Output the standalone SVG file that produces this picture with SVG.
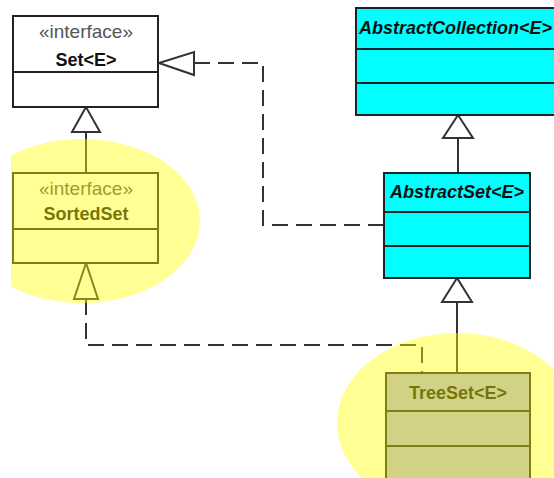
<svg xmlns="http://www.w3.org/2000/svg" width="554" height="478" viewBox="0 0 554 478">
<style>
.box{stroke:#222;stroke-width:2}
.white{fill:#fff}
.cyan{fill:#00ffff}
.lav{fill:#b1b1e9}
.div{stroke:#222;stroke-width:2;fill:none}
.line{stroke:#333;stroke-width:2;fill:none}
.dash{stroke:#333;stroke-width:2;fill:none;stroke-dasharray:16 8}
.tri{fill:#fff;stroke:#333;stroke-width:2;stroke-linejoin:miter}
.name{font-family:"Liberation Sans",Arial,sans-serif;font-size:18px;font-weight:bold;fill:#111;text-anchor:middle}
.abs{font-style:italic}
.stereo{font-family:"Liberation Sans",Arial,sans-serif;font-size:19px;fill:#555;text-anchor:middle}
.hl{fill:#ffff00;opacity:0.42}
</style>
<defs>
<clipPath id="clipL"><rect x="11" y="0" width="543" height="478"/></clipPath>
</defs>
<rect width="554" height="478" fill="#fff"/>
<g id="connectors">
<path class="dash" d="M194,63 H263 V225 H384"/>
<path class="dash" d="M86,299 V345 H422 V373"/>
<path class="line" d="M86,132 V173"/>
<path class="line" d="M458,138 V173"/>
<path class="line" d="M457,302 V373"/>
<polygon class="tri" points="159,63 194,52 194,75"/>
<polygon class="tri" points="86,107 72,132 100,132"/>
<polygon class="tri" points="86,263 74,299 98,299"/>
<polygon class="tri" points="458,115 443,138 473,138"/>
<polygon class="tri" points="457,278 442,302 472,302"/>
</g>
<g id="Set">
<rect class="box white" x="13" y="16" width="145" height="91"/>
<line class="div" x1="13" y1="72" x2="158" y2="72"/>
<text class="stereo" x="86" y="38">«interface»</text>
<text class="name" x="86" y="66">Set&lt;E&gt;</text>
</g>
<g id="SortedSet">
<rect class="box white" x="13" y="173" width="145" height="90"/>
<line class="div" x1="13" y1="229" x2="158" y2="229"/>
<text class="stereo" x="86" y="195">«interface»</text>
<text class="name" x="86" y="220">SortedSet</text>
</g>
<g id="AbstractCollection">
<rect class="box cyan" x="356" y="8" width="210" height="107"/>
<line class="div" x1="356" y1="49" x2="554" y2="49"/>
<line class="div" x1="356" y1="83" x2="554" y2="83"/>
<text class="name abs" x="359" y="34" style="text-anchor:start">AbstractCollection&lt;E&gt;</text>
</g>
<g id="AbstractSet">
<rect class="box cyan" x="384" y="173" width="146" height="105"/>
<line class="div" x1="384" y1="212" x2="530" y2="212"/>
<line class="div" x1="384" y1="246" x2="530" y2="246"/>
<text class="name abs" x="457" y="198">AbstractSet&lt;E&gt;</text>
</g>
<g id="TreeSet">
<rect class="box lav" x="386" y="373" width="144" height="120"/>
<line class="div" x1="386" y1="411" x2="530" y2="411"/>
<line class="div" x1="386" y1="446" x2="530" y2="446"/>
<text class="name" x="458" y="399">TreeSet&lt;E&gt;</text>
</g>
<g id="highlights">
<ellipse class="hl" cx="82" cy="221" rx="118" ry="82" clip-path="url(#clipL)"/>
<ellipse class="hl" cx="457" cy="423" rx="120" ry="90"/>
</g>
</svg>
